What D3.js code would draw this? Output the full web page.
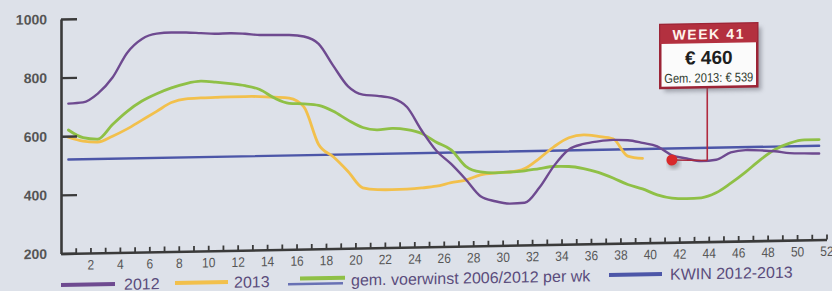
<!DOCTYPE html>
<html>
<head>
<meta charset="utf-8">
<script src="https://cdn.jsdelivr.net/npm/d3@7"></script>
<style>
body { margin: 0; background: #dde1e9; }
svg { display: block; }
</style>
</head>
<body>
<svg id="chart"></svg>
<script>
// Data, weeks 1..52
const weeks = d3.range(1, 53);
const values2012 = [711, 714, 743, 797, 881, 927, 944, 947, 946, 943,
    940, 941, 938, 933, 932, 931, 925, 899, 823, 752,
    723, 718, 709, 678, 597, 527, 481, 427, 369, 351,
    342, 344, 395, 469, 523, 541, 549, 553, 551, 541,
    528, 497, 485, 475, 479, 503, 510, 508, 504, 497,
    495, 494];
const values2013 = [596, 582, 578, 597, 621, 650, 679, 708, 720, 722,
    723, 724, 724, 723, 720, 716, 685, 556, 513, 462,
    405, 398, 397, 398, 401, 406, 417, 425, 442, 448,
    450, 461, 495, 534, 563, 572, 566, 557, 497, 488];
const valuesAvg = [621, 594, 588, 637, 681, 715, 739, 758, 772, 779,
    775, 769, 761, 747, 717, 698, 695, 689, 668, 637,
    611, 602, 606, 601, 587, 556, 529, 472, 452, 448,
    450, 453, 460, 466, 465, 457, 443, 423, 400, 384,
    363, 351, 348, 350, 366, 398, 435, 476, 510, 531,
    541, 541];
const kwinWeeks = [1, 52];
const kwinValues = [520, 520];
const yTicks = [200, 400, 600, 800, 1000];
const xTicks = d3.range(1, 53);
const legendLabels = ["2012", "2013", "gem. voerwinst 2006/2012 per wk", "KWIN 2012-2013"];
const annWeek = 41;
const annValue = 460;
const annAvg = 539;
const markerPoint = [42, 481];
const stemPoint = [44.4, 477];

const colors = {
    y2012: "#6e4a90",
    y2013: "#f2c04c",
    avg: "#8fc046",
    kwin: "#4c56a8"
};

const width = 832, height = 291;
const x = d3.scaleLinear().domain([0, 52]).range([61, 826.5]);
const y = d3.scaleLinear().domain([200, 1000]).range([253.5, 19]);
const px = w => x(w - 0.5);   // weekly values sit in the middle of each week

const svg = d3.select("#chart").attr("width", width).attr("height", height);

const defs = svg.append("defs");
defs.append("filter").attr("id", "blur")
    .append("feGaussianBlur").attr("stdDeviation", 2);

// the photographed page is slightly tilted
const g = svg.append("g")
    .attr("transform", "translate(61,253.5) skewY(-1.05) translate(-61,-253.5)");

// Lines
const line = d3.line()
    .x(d => px(d[0]))
    .y(d => y(d[1]))
    .curve(d3.curveMonotoneX);

const series = [
    { key: "kwin", data: kwinWeeks.map((w, i) => [w, kwinValues[i]]), width: 2.4 },
    { key: "y2013", data: values2013.map((v, i) => [weeks[i], v]), width: 2.8 },
    { key: "avg", data: valuesAvg.map((v, i) => [weeks[i], v]), width: 2.8 },
    { key: "y2012", data: values2012.map((v, i) => [weeks[i], v]), width: 2.4 }
];

g.append("g")
    .selectAll("path")
    .data(series)
    .join("path")
    .attr("d", d => line(d.data))
    .attr("fill", "none")
    .attr("stroke", d => colors[d.key])
    .attr("stroke-width", d => d.width)
    .attr("stroke-linejoin", "round")
    .attr("stroke-linecap", "round");

// Axes
const yAxis = d3.axisLeft(y)
    .tickValues(yTicks)
    .tickFormat(d3.format("d"))
    .tickSize(-16)
    .tickSizeOuter(0)
    .tickPadding(14);
const ya = g.append("g")
    .attr("transform", `translate(${x(0)},0)`)
    .call(yAxis);
ya.select(".domain").attr("stroke", "#3a3a3a").attr("stroke-width", 2.6);
ya.selectAll(".tick line").attr("stroke", "#3a3a3a").attr("stroke-width", 2.4);
ya.selectAll(".tick text")
    .attr("fill", "#555")
    .style("font", "bold 14px 'Liberation Sans', Arial, sans-serif");

const xAxis = d3.axisBottom(x)
    .tickValues(xTicks)
    .tickSize(-5)
    .tickSizeOuter(0)
    .tickPadding(6.5)
    .tickFormat(d => d % 2 === 0 ? d : "");
const xa = g.append("g")
    .attr("transform", `translate(0,${y(200)})`)
    .call(xAxis);
xa.select(".domain").attr("stroke", "#3a3a3a").attr("stroke-width", 2.6);
xa.selectAll(".tick line").attr("stroke", "#3a3a3a").attr("stroke-width", 1.8);
xa.selectAll(".tick text")
    .attr("fill", "#555")
    .style("font", "13px 'Liberation Sans', Arial, sans-serif")
    .attr("transform", "scale(0.92,1.05)");

// Annotation (week 41)
const sx = px(stemPoint[0]);
const boxW = 97, boxH = 63, boxTop = 36;
const bx = sx - 47;

g.append("line")
    .attr("x1", px(markerPoint[0])).attr("y1", y(markerPoint[1]))
    .attr("x2", sx).attr("y2", y(stemPoint[1]))
    .attr("stroke", "#a8283c").attr("stroke-width", 1.6);
g.append("line")
    .attr("x1", sx).attr("y1", boxTop + boxH)
    .attr("x2", sx).attr("y2", y(stemPoint[1]))
    .attr("stroke", "#b02a3e").attr("stroke-width", 1.6);
g.append("circle")
    .attr("cx", px(markerPoint[0]) + 2).attr("cy", y(markerPoint[1]) + 3)
    .attr("r", 6).attr("fill", "#555").attr("opacity", 0.45)
    .attr("filter", "url(#blur)");
g.append("circle")
    .attr("cx", px(markerPoint[0])).attr("cy", y(markerPoint[1]))
    .attr("r", 5.5).attr("fill", "#d8292b");

g.append("rect")
    .attr("x", bx + 4).attr("y", boxTop + 4)
    .attr("width", boxW).attr("height", boxH)
    .attr("fill", "#6c6e78").attr("opacity", 0.55)
    .attr("filter", "url(#blur)");
g.append("rect")
    .attr("x", bx).attr("y", boxTop)
    .attr("width", boxW).attr("height", boxH)
    .attr("fill", "#fbfbfb")
    .attr("stroke", "#9c2436").attr("stroke-width", 2.5);
g.append("rect")
    .attr("x", bx).attr("y", boxTop)
    .attr("width", boxW).attr("height", 19)
    .attr("fill", "#b3303f");
g.append("text")
    .attr("x", bx + boxW / 2).attr("y", boxTop + 15)
    .attr("text-anchor", "middle")
    .attr("fill", "#fff4ec")
    .style("font", "bold 14px 'Liberation Sans', Arial, sans-serif")
    .style("letter-spacing", "1.6px")
    .text("WEEK " + annWeek);
g.append("text")
    .attr("x", bx + boxW / 2).attr("y", boxTop + 40)
    .attr("text-anchor", "middle")
    .attr("fill", "#1e1e1e")
    .style("font", "bold 19px 'Liberation Sans', Arial, sans-serif")
    .text("€ " + annValue);
g.append("text")
    .attr("x", bx + 4).attr("y", boxTop + 58)
    .attr("fill", "#2e3a2e")
    .attr("textLength", boxW - 8)
    .attr("lengthAdjust", "spacingAndGlyphs")
    .style("font", "13px 'Liberation Sans', Arial, sans-serif")
    .text("Gem. 2013: € " + annAvg);

// Legend
const legend = [
    { key: "y2012", x1: 61, x2: 115, ly: 285, tx: 124 },
    { key: "y2013", x1: 175, x2: 228, ly: 285, tx: 234 },
    { key: "avg", x1: 300, x2: 345, ly: 283, tx: 351 },
    { key: "kwin", x1: 609, x2: 662, ly: 285, tx: 670 }
];
const lg = g.append("g");
lg.append("line")
    .attr("x1", 288).attr("x2", 343).attr("y1", 288.5).attr("y2", 288.5)
    .attr("stroke", colors.kwin).attr("stroke-width", 2.5).attr("opacity", 0.8);
lg.selectAll("line.item")
    .data(legend)
    .join("line")
    .attr("class", "item")
    .attr("x1", d => d.x1).attr("x2", d => d.x2)
    .attr("y1", d => d.ly).attr("y2", d => d.ly)
    .attr("stroke", d => colors[d.key])
    .attr("stroke-width", 4);
lg.selectAll("text")
    .data(legend)
    .join("text")
    .attr("x", d => d.tx).attr("y", 291)
    .attr("fill", "#5a4c7c")
    .style("font", "16px 'Liberation Sans', Arial, sans-serif")
    .text((d, i) => legendLabels[i]);
</script>
</body>
</html>
